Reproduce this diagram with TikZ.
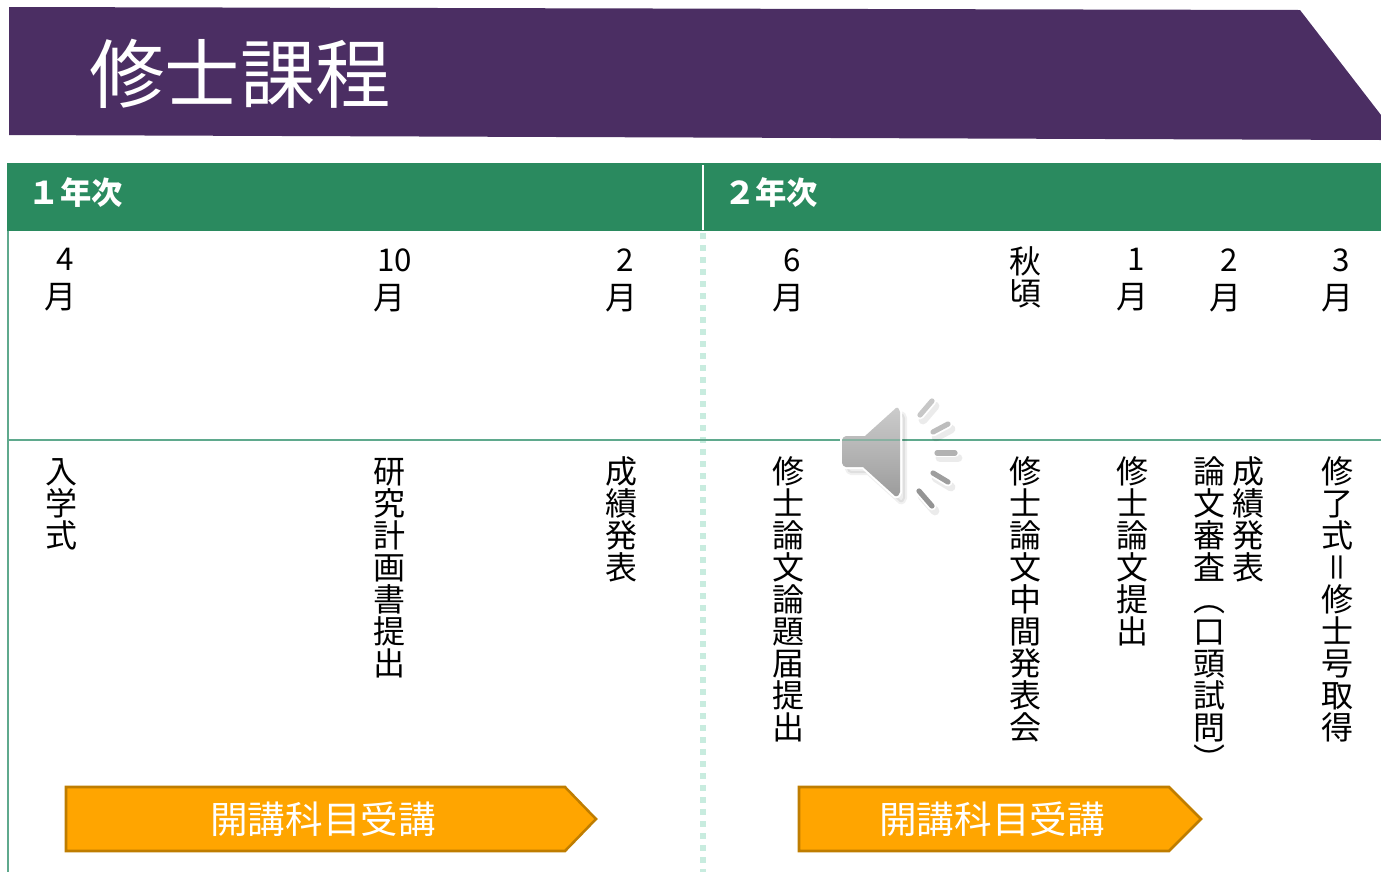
\documentclass[tikz,border=0pt]{standalone}
\usepackage{fontspec}
\usepackage{graphicx}
\setmainfont{Liberation Sans}
\newfontfamily\cjk{Noto Sans CJK JP}
\usetikzlibrary{shadows}
\definecolor{bannerpurple}{HTML}{4B2E63}
\definecolor{headgreen}{HTML}{2A8A5F}
\definecolor{rulegreen}{HTML}{5FA98D}
\definecolor{dotgreen}{HTML}{C8ECDF}
\definecolor{arrorange}{HTML}{FFA500}
\definecolor{arredge}{HTML}{BF7D00}
\newcommand{\dg}[2]{\hspace*{#1pt}{\fontsize{23.5}{24}\selectfont #2}}
\tikzset{
  x=0.75pt,y=-0.75pt,
  vlabel/.style={anchor=north,inner sep=0pt,align=center,text=black,font=\cjk\fontsize{24}{24}\selectfont},
  month/.style={anchor=north,inner sep=0pt,align=center,text=black,font=\cjk\fontsize{24}{28.5}\selectfont},
  yearhead/.style={anchor=west,inner sep=0pt,text=white,font=\cjk\bfseries\fontsize{23.5}{24}\selectfont},
  arrlabel/.style={inner sep=0pt,text=white,font=\cjk\fontsize{28.2}{30}\selectfont},
  arrbody/.style={fill=arrorange,draw=arredge,line width=1.9pt,line join=miter},
  ray/.style={line cap=round,line width=3.9pt},
  rayhalo/.style={line cap=round,line width=6.6pt,white},
  rayshadow/.style={line cap=round,line width=6.6pt,black,opacity=.08}
}
\begin{document}
\begin{tikzpicture}
\useasboundingbox (0,0) rectangle (1381,872);
% banner
\fill[bannerpurple] (9,7) -- (1300,10) -- (1381,115) -- (1381,140) -- (9,135) -- cycle;
\node[inner sep=0pt,anchor=center,text=white,font=\cjk\fontsize{56.5}{60}\selectfont] (title) at (240,74) {修士課程};
% header band
\fill[headgreen] (7,163) rectangle (1381,231);
\draw[white,line width=2.2pt] (703,165) -- (703,230);
\node[yearhead] (y1) at (28.5,193) {１年次};
\node[yearhead] (y2) at (724,193) {２年次};
% rules
\draw[rulegreen,line width=1.4pt] (8,231) -- (8,872);
\draw[dotgreen,line width=4pt,dash pattern=on 4.5pt off 4.5pt] (703,233) -- (703,872);
\draw[rulegreen,line width=1.2pt] (7,440) -- (1381,440);
% months
\node[month] (m1) at (60.5,248) {\dg{7.5}{4}\\月};
\node[month] (m2) at (389.5,248) {\dg{7.5}{10}\\月};
\node[month] (m3) at (621.5,248) {\dg{6}{2}\\月};
\node[month] (m4) at (788.5,248) {\dg{6}{6}\\月};
\node[vlabel] (m5) at (1025.5,246) {秋\\頃};
\node[month] (m6) at (1132.5,248) {\dg{6}{1}\\月};
\node[month] (m7) at (1225.5,248) {\dg{6}{2}\\月};
\node[month] (m8) at (1337.5,248) {\dg{6}{3}\\月};
% events
\node[vlabel] (e1) at (61,458) {入\\学\\式};
\node[vlabel] (e2) at (389.5,458) {研\\究\\計\\画\\書\\提\\出};
\node[vlabel] (e3) at (621.5,456) {成\\績\\発\\表};
\node[vlabel] (e4) at (788.5,456) {修\\士\\論\\文\\論\\題\\届\\提\\出};
\node[vlabel] (e5) at (1025.5,456) {修\\士\\論\\文\\中\\間\\発\\表\\会};
\node[vlabel] (e6) at (1132.5,456) {修\\士\\論\\文\\提\\出};
\node[vlabel] (e7) at (1209.5,456) {論\\文\\審\\査\\︵\\口\\頭\\試\\問\\︶};
\node[vlabel] (e8) at (1248,456) {成\\績\\発\\表};
\node[vlabel] (e9) at (1337.5,456) {修\\了\\式\\\hspace*{5pt}\raisebox{-3pt}[0pt][0pt]{\rotatebox{90}{＝}}\\修\\士\\号\\取\\得};
% arrows
\draw[arrbody] (66,787) -- (565,787) -- (596,819) -- (565,851) -- (66,851) -- cycle;
\draw[arrbody] (799,787) -- (1169,787) -- (1201,819) -- (1169,851) -- (799,851) -- cycle;
\node[arrlabel] (a1) at (323,819) {開講科目受講};
\node[arrlabel] (a2) at (992,819) {開講科目受講};
% speaker icon
\def\horn{(842,440) to[out=90,in=180,looseness=0.8] (846,436) -- (865,436) -- (896,408) to[out=40,in=90] (900,412) -- (900,492) to[out=-90,in=-30] (895,496) -- (863,467) -- (846,467) to[out=180,in=-90,looseness=0.8] (842,463) -- cycle}
\fill[black,opacity=.07,shift={(5,6)},line width=3pt] \horn;
\draw[black,opacity=.06,shift={(5,6)},line width=3pt] \horn;
\draw[white,line width=3pt,line join=round] \horn;
\foreach \a/\b/\c/\d in {920/415/932/401,933/432/948/424,937/453/955/453,933/473/948/482,919/491/932/506}{
  \draw[rayshadow] (\a+3,\b+5) -- (\c+3,\d+5);
}
\foreach \a/\b/\c/\d in {920/415/932/401,933/432/948/424,937/453/955/453,933/473/948/482,919/491/932/506}{
  \draw[rayhalo] (\a,\b) -- (\c,\d);
}
\shade[top color=gray!40!white,bottom color=gray!78!white] \horn;
\begin{scope}
\clip \horn;
\draw[rulegreen,opacity=.55,line width=1.2pt] (830,440) -- (910,440);
\end{scope}
\draw[ray,color=black!22] (920,415) -- (932,401);
\draw[ray,color=black!26] (933,432) -- (948,424);
\draw[ray,color=black!30] (937,453) -- (955,453);
\draw[ray,color=black!38] (933,473) -- (948,482);
\draw[ray,color=black!42] (919,491) -- (932,506);
\end{tikzpicture}
\end{document}
